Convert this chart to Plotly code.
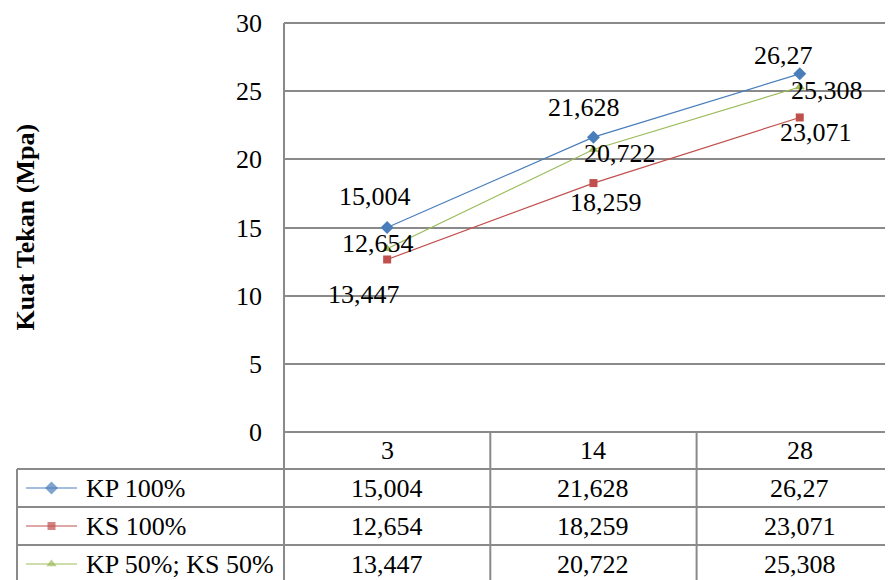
import plotly.graph_objects as go

# ---------------- data ----------------
categories = ["3", "14", "28"]
series_names = ["KP 100%", "KS 100%", "KP 50%; KS 50%"]
kp100 = [15.004, 21.628, 26.27]
ks100 = [12.654, 18.259, 23.071]
kp50ks50 = [13.447, 20.722, 25.308]
y_ticks = [0, 5, 10, 15, 20, 25, 30]
y_title = "Kuat Tekan (Mpa)"

series_values = [kp100, ks100, kp50ks50]
colors = ["#4A7EBB", "#C0504D", "#9BBB59"]
symbols = ["diamond", "square", "triangle-up"]
msizes = [10, 8, 9]
# label offsets (px) for each series/point (manual Excel placement)
label_shift = [
    [(-12, 31), (-9, 30), (-16, 18)],
    [(-9, 16), (13, -19), (16, -15)],
    [(-23, -46), (27, -4), (27, -4)],
]

OFF = 8                          # page body margin compensation
W, H = 893 + OFF, 580 + OFF      # figure fills the whole viewport
PL, PT, PB = 284 - OFF, 23 - OFF, 432 - OFF   # plot area left, top, bottom (px)
CAT_W = 206.3                    # category width (px)
FONT = "Liberation Serif, Times New Roman, serif"
FS = 26
GRID = "#8A8A8A"
Y_MIN, Y_MAX = 0, 30


def fmt(v):
    return str(v).replace(".", ",")


def y_px(v):
    return PB - (v - Y_MIN) / (Y_MAX - Y_MIN) * (PB - PT)


fig = go.Figure()

for name, vals, c, s, ms in zip(series_names, series_values, colors, symbols, msizes):
    fig.add_trace(go.Scatter(
        x=categories, y=vals, name=name, mode="lines+markers",
        line=dict(color=c, width=1.2),
        marker=dict(symbol=s, size=ms, color=c, line=dict(width=0)),
        xaxis="x", yaxis="y", hoverinfo="skip", showlegend=False,
    ))

annotations = []
for si, vals in enumerate(series_values):
    for ci, v in enumerate(vals):
        dx, dy = label_shift[si][ci]
        annotations.append(dict(
            x=ci, y=v, xref="x", yref="y", text=fmt(v),
            showarrow=False, xshift=dx, yshift=dy,
            font=dict(family=FONT, size=FS, color="black"),
        ))

# ---------------- data table below the chart ----------------
row_lines = [PB, 469 - OFF, 507 - OFF, 545 - OFF]
row_h = row_lines[2] - row_lines[1]
row_centers = [(row_lines[0] + row_lines[1]) / 2] + [r + row_h / 2 for r in row_lines[1:]]
LEG_L = 17 - OFF
LEG_X0, LEG_XM, LEG_X1, LEG_TX = 26 - OFF, 51.5 - OFF, 77 - OFF, 84 - OFF


def cat_center(i):
    return PL + (i + 0.5) * CAT_W


shapes = []
line_style = dict(color=GRID, width=2)
# gridlines at the range ends (plotly clips them)
for v in (Y_MIN, Y_MAX):
    shapes.append(dict(type="line", xref="x2", yref="y2", x0=PL, x1=W, y0=y_px(v), y1=y_px(v), line=line_style))
# horizontal row lines
for yy in row_lines[1:]:
    shapes.append(dict(type="line", xref="x2", yref="y2", x0=LEG_L, x1=W, y0=yy, y1=yy, line=line_style))
# vertical lines
shapes.append(dict(type="line", xref="x2", yref="y2", x0=PL, x1=PL, y0=PT, y1=H, line=line_style))
for i in range(1, len(categories)):
    xx = PL + i * CAT_W
    shapes.append(dict(type="line", xref="x2", yref="y2", x0=xx, x1=xx, y0=PB, y1=H, line=line_style))
shapes.append(dict(type="line", xref="x2", yref="y2", x0=LEG_L, x1=LEG_L, y0=row_lines[1], y1=H, line=line_style))

# header: categories
for i, c in enumerate(categories):
    annotations.append(dict(x=cat_center(i), y=row_centers[0], xref="x2", yref="y2", text=c,
                            showarrow=False, font=dict(family=FONT, size=FS, color="black")))
# rows
for si, (name, vals, c, s, ms) in enumerate(zip(series_names, series_values, colors, symbols, msizes)):
    yc = row_centers[si + 1]
    fig.add_trace(go.Scatter(
        x=[LEG_X0, LEG_XM, LEG_X1], y=[yc, yc, yc], mode="lines+markers",
        line=dict(color=c, width=1.2),
        marker=dict(symbol=s, size=[0, ms, 0], color=c, line=dict(width=0)),
        xaxis="x2", yaxis="y2", hoverinfo="skip", showlegend=False,
    ))
    annotations.append(dict(x=LEG_TX, y=yc, xref="x2", yref="y2", text=name, xanchor="left",
                            showarrow=False, font=dict(family=FONT, size=FS, color="black")))
    for ci, v in enumerate(vals):
        annotations.append(dict(x=cat_center(ci), y=yc, xref="x2", yref="y2", text=fmt(v),
                                showarrow=False, font=dict(family=FONT, size=FS, color="black")))

# y-axis title
annotations.append(dict(x=25 - OFF, y=(PT + PB) / 2, xref="x2", yref="y2", text="<b>" + y_title + "</b>",
                        textangle=-90, showarrow=False, font=dict(family=FONT, size=FS, color="black")))

x_range_right = -0.5 + (W - PL) / CAT_W

fig.update_layout(
    template="none",
    width=W, height=H, autosize=False,
    margin=dict(l=0, r=0, t=0, b=0, pad=0, autoexpand=False),
    paper_bgcolor="white", plot_bgcolor="rgba(0,0,0,0)",
    font=dict(family=FONT, size=FS, color="black"),
    xaxis=dict(
        domain=[PL / W, 1], anchor="y", type="category", range=[-0.5, x_range_right],
        showticklabels=False, showgrid=False, zeroline=False, showline=False, ticks="",
        fixedrange=True, automargin=False,
    ),
    yaxis=dict(
        domain=[1 - PB / H, 1 - PT / H], anchor="x", range=[Y_MIN, Y_MAX], tickvals=y_ticks,
        showgrid=True, gridcolor=GRID, gridwidth=2, zeroline=False,
        showline=False, ticks="",
        ticklabelstandoff=21, tickfont=dict(family=FONT, size=FS, color="black"),
        fixedrange=True, automargin=False,
    ),
    xaxis2=dict(domain=[0, 1], anchor="y2", range=[0, W], visible=False, fixedrange=True, automargin=False),
    yaxis2=dict(domain=[0, 1], anchor="x2", range=[H, 0], visible=False, fixedrange=True, automargin=False),
    shapes=shapes,
    annotations=annotations,
)

fig.write_html("out.html")
